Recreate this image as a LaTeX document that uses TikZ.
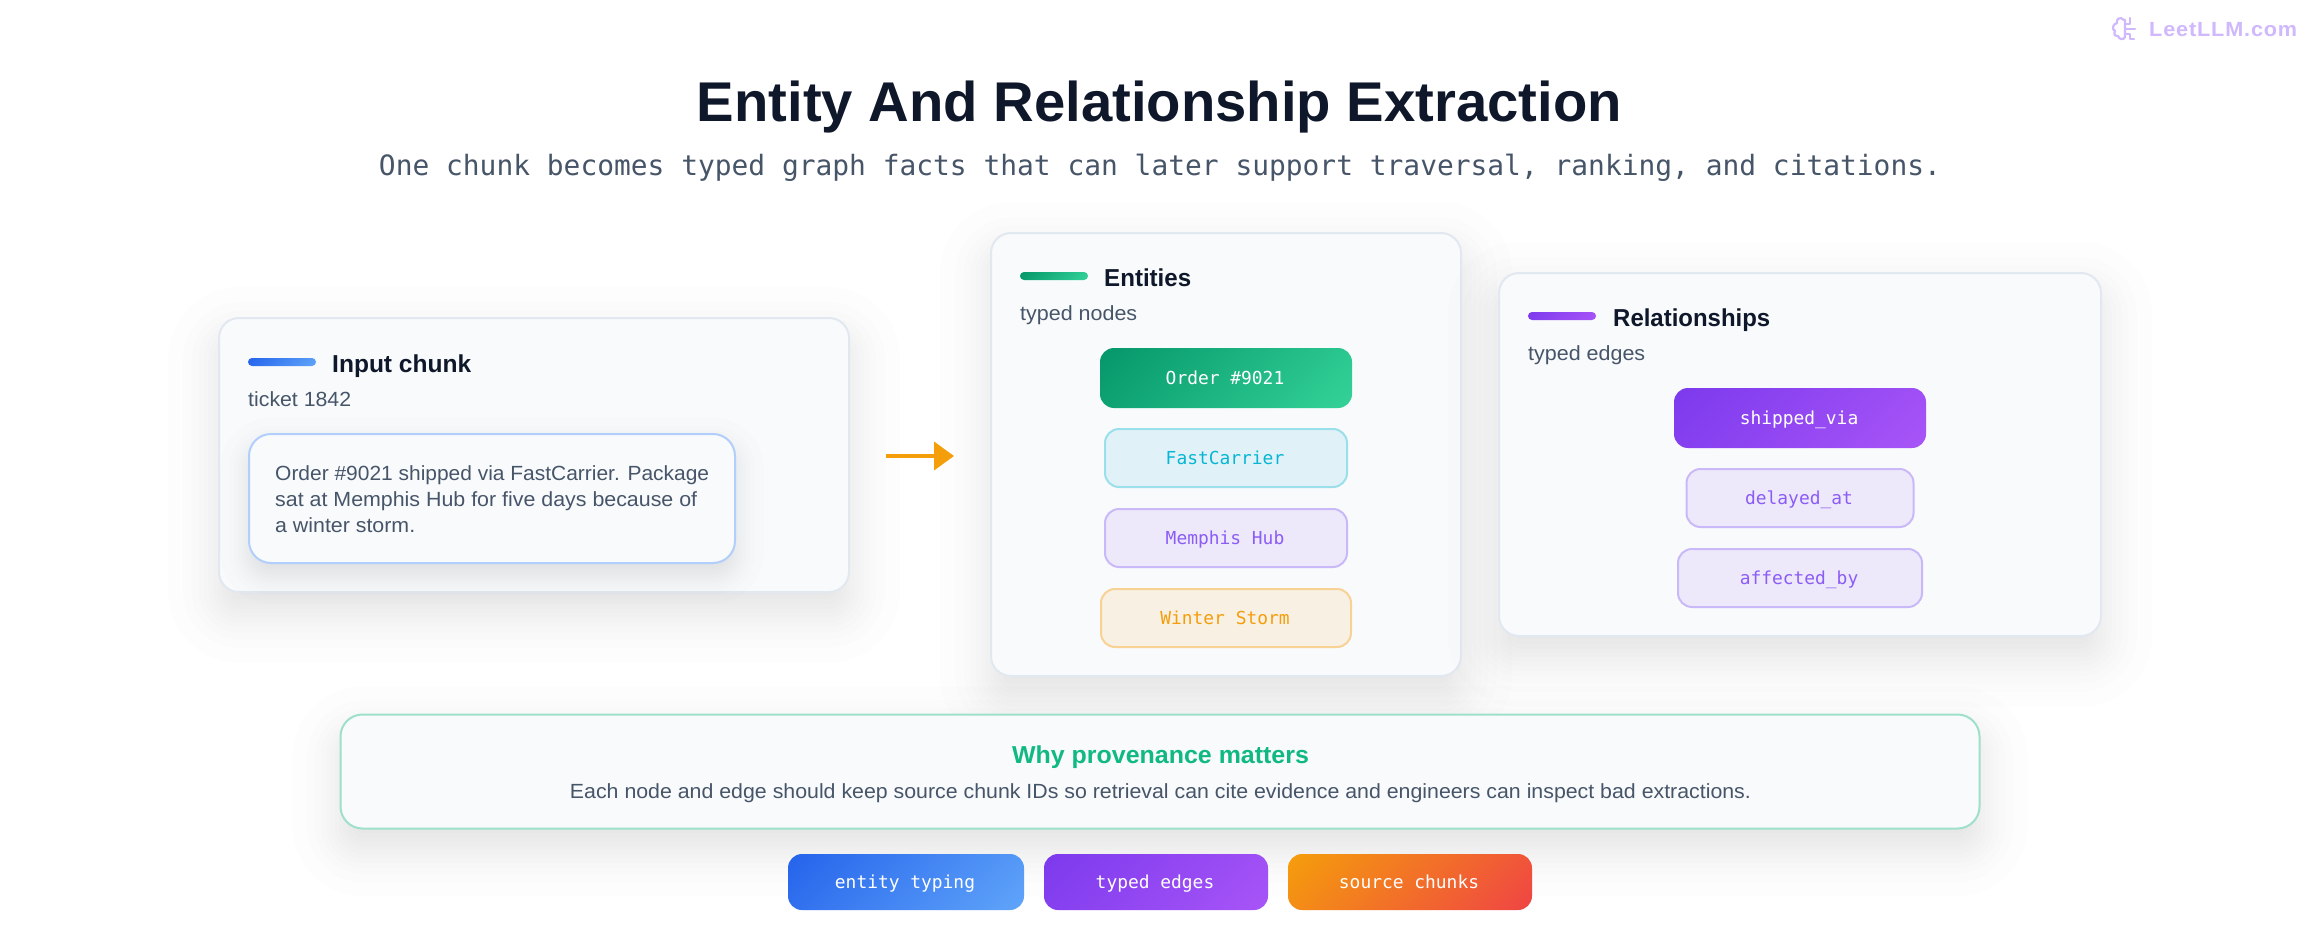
\documentclass[tikz,border=0pt]{standalone}
\usepackage{fontspec}
\usepackage{graphicx}
\usetikzlibrary{arrows.meta}
\setmainfont{Liberation Sans}
\newfontfamily\monof{DejaVu Sans Mono}
\definecolor{ink}{HTML}{0F172A}
\definecolor{slate}{HTML}{475569}
\definecolor{cardfill}{HTML}{F8FAFC}
\definecolor{cardline}{HTML}{E2E8F0}
\definecolor{blueA}{HTML}{2563EB}
\definecolor{blueB}{HTML}{60A5FA}
\definecolor{greenA}{HTML}{059669}
\definecolor{greenB}{HTML}{34D399}
\definecolor{purpA}{HTML}{7C3AED}
\definecolor{purpB}{HTML}{A855F7}
\definecolor{orngA}{HTML}{F59E0B}
\definecolor{redB}{HTML}{EF4444}
\definecolor{provgreen}{HTML}{10B981}
\definecolor{provline}{HTML}{9EE0C9}
\definecolor{chunkline}{HTML}{B2CEFB}
\definecolor{cyanfill}{HTML}{E0F2F8}
\definecolor{cyanline}{HTML}{9BDFEB}
\definecolor{cyantext}{HTML}{06B6D4}
\definecolor{violfill}{HTML}{EDE9FB}
\definecolor{violline}{HTML}{CAB9F9}
\definecolor{violtext}{HTML}{8B5CF6}
\definecolor{ambfill}{HTML}{F8F0E3}
\definecolor{ambline}{HTML}{F8D294}
\definecolor{logoc}{HTML}{D0B8FC}
\newcommand\fitw[2]{\resizebox{#1pt}{\height}{#2}}
% soft shadow: x1 y1 x2 y2 radius dy sigma opacity
\newcommand\softshadow[8]{%
  \pgfmathsetmacro\shA{#8/16}%
  \foreach \z in {-1.863,-1.318,-1.01,-0.776,-0.579,-0.402,-0.237,-0.078,0.078,0.237,0.402,0.579,0.776,1.01,1.318,1.863}{%
    \pgfmathsetmacro\shE{\z*#7}%
    \pgfmathsetmacro\shR{max(#5+\shE,1)}%
    \fill[ink,fill opacity=\shA,rounded corners=\shR pt]
      ({#1-\shE},{#2+#6-\shE}) rectangle ({#3+\shE},{#4+#6+\shE});
  }}
% css-like 135deg gradient: x1 y1 x2 y2 radius colA colB
\newcommand\gradfill[7]{%
  \begin{scope}
    \clip[rounded corners=#5pt] (#1,#2) rectangle (#3,#4);
    \pgfmathsetmacro\gcx{(#1+#3)/2}%
    \pgfmathsetmacro\gcy{(#2+#4)/2}%
    \pgfmathsetmacro\gL{(#3-#1+#4-#2)*0.35355}%
    \shade[transform canvas={rotate around={-45:(\gcx,\gcy)}},left color=#6,right color=#7]
      ({\gcx-\gL},{\gcy-\gL}) rectangle ({\gcx+\gL},{\gcy+\gL});
  \end{scope}}
\tikzset{
  cardbox/.style={draw=cardline,line width=2pt,fill=cardfill,rounded corners=20pt,inner sep=0pt},
  maintitle/.style={anchor=base,inner sep=0pt,text=ink,font=\fontsize{56}{60}\selectfont\bfseries},
  subtitle/.style={anchor=base,inner sep=0pt,text=slate,font=\fontsize{28}{32}\selectfont\monof},
  cardtitle/.style={anchor=base west,inner sep=0pt,text=ink,font=\fontsize{24.5}{28}\selectfont\bfseries},
  cardsub/.style={anchor=base west,inner sep=0pt,text=slate,font=\fontsize{20.5}{26}\selectfont},
  monolabel/.style={inner sep=0pt,font=\fontsize{17.9}{22}\selectfont\monof,text height=16pt,text depth=4pt,execute at begin node={\kern-2pt}},
  pillbox/.style={monolabel,text=white,rounded corners=14pt},
  violbox/.style={monolabel,draw=violline,fill=violfill,text=violtext,line width=2pt,rounded corners=14pt},
  flow/.style={draw=orngA,line width=4pt,-{Triangle[length=20pt,width=28pt,fill=orngA]},shorten <=36pt,shorten >=36pt},
  logoline/.style={draw=logoc,line width=2.2pt,line cap=round,line join=round}
}
\begin{document}
\begin{tikzpicture}[x=1pt,y=-1pt]
\useasboundingbox (0,0) rectangle (2320,928);
\fill[white] (0,0) rectangle (2320,928);

% watermark
\draw[logoline] (2124,20) .. controls (2120,16) and (2116,19) .. (2117,23)
  .. controls (2112,24) and (2112,30) .. (2115,31)
  .. controls (2113,35) and (2116,37) .. (2118,36)
  .. controls (2119,40) and (2124,40) .. (2125,37) -- (2125,20);
\draw[logoline] (2130,18) -- (2130,24) -- (2125,24);
\draw[logoline] (2125,29) -- (2135,29);
\draw[logoline] (2125,34) -- (2130,34) -- (2130,39) -- (2134,39);
\node[anchor=base west,inner sep=0pt,text=logoc,font=\fontsize{20.5}{24}\selectfont\bfseries\addfontfeature{LetterSpace=4}] (brand) at (2149,37) {\fitw{148}{LeetLLM.com}};

% headings
\node[maintitle] (title) at (1159.5,122) {\fitw{925}{Entity And Relationship Extraction}};
\node[subtitle] (subt) at (1160,176) {\fitw{1562}{One chunk becomes typed graph facts that can later support traversal, ranking, and citations.}};

% input card
\softshadow{220}{319}{848}{591}{20}{20}{28}{0.11}
\node[cardbox,minimum width=630pt,minimum height=274pt] (input) at (534,455) {};
\gradfill{248}{358}{316}{366}{4}{blueA}{blueB}
\node[cardtitle] (inputT) at (332,372) {\fitw{139}{Input chunk}};
\node[cardsub] (inputS) at (248,406) {\fitw{103}{ticket 1842}};
\softshadow{250}{435}{734}{562}{22}{12}{16}{0.13}
\node[draw=chunkline,fill=cardfill,line width=2pt,rounded corners=22pt,inner sep=0pt,minimum width=486pt,minimum height=129pt] (chunk) at (492,498.5) {};
\node[cardsub] (chunkA) at (275,480) {\fitw{434}{Order \#9021 shipped via FastCarrier. Package}};
\node[cardsub] (chunkB) at (275,506) {\fitw{422}{sat at Memphis Hub for five days because of}};
\node[cardsub] (chunkC) at (275,532) {\fitw{140}{a winter storm.}};

% entities card
\softshadow{992}{234}{1460}{675}{20}{20}{28}{0.11}
\node[cardbox,minimum width=470pt,minimum height=443pt] (entities) at (1226,454.5) {};
\gradfill{1020}{272}{1088}{280}{4}{greenA}{greenB}
\node[cardtitle] (entT) at (1104,286) {\fitw{87}{Entities}};
\node[cardsub] (entS) at (1020,320) {\fitw{117}{typed nodes}};
\gradfill{1100}{348}{1352}{408}{14}{greenA}{greenB}
\node[pillbox,minimum width=252pt,minimum height=60pt] (order) at (1226,378) {Order \#9021};
\node[monolabel,draw=cyanline,fill=cyanfill,text=cyantext,line width=2pt,rounded corners=14pt,minimum width=242pt,minimum height=58pt] (fast) at (1226,458) {FastCarrier};
\node[violbox,minimum width=242pt,minimum height=58pt] (hub) at (1226,538) {Memphis Hub};
\node[monolabel,draw=ambline,fill=ambfill,text=orngA,line width=2pt,rounded corners=14pt,minimum width=250pt,minimum height=58pt] (storm) at (1226,618) {Winter Storm};

% relationships card
\softshadow{1500}{274}{2100}{635}{20}{20}{28}{0.11}
\node[cardbox,minimum width=602pt,minimum height=363pt] (rels) at (1800,454.5) {};
\gradfill{1528}{312}{1596}{320}{4}{purpA}{purpB}
\node[cardtitle] (relT) at (1613,326) {\fitw{157}{Relationships}};
\node[cardsub] (relS) at (1528,360) {\fitw{117}{typed edges}};
\gradfill{1674}{388}{1926}{448}{14}{purpA}{purpB}
\node[pillbox,minimum width=252pt,minimum height=60pt] (shipped) at (1800,418) {shipped\_via};
\node[violbox,minimum width=227pt,minimum height=58pt] (delayed) at (1800,498) {delayed\_at};
\node[violbox,minimum width=244pt,minimum height=58pt] (affected) at (1800,578) {affected\_by};

% arrow
\draw[flow] ([yshift=-1pt]input.east) -- ([yshift=-1pt]input.east -| entities.west);

% provenance card
\softshadow{341}{715}{1979}{828}{22}{20}{26}{0.11}
\node[draw=provline,fill=cardfill,line width=2pt,rounded corners=22pt,inner sep=0pt,minimum width=1639pt,minimum height=114pt] (prov) at (1160,771.5) {};
\node[anchor=base,inner sep=0pt,text=provgreen,font=\fontsize{24.5}{28}\selectfont\bfseries] (provT) at (1160.5,763) {\fitw{297}{Why provenance matters}};
\node[anchor=base,inner sep=0pt,text=slate,font=\fontsize{20.5}{26}\selectfont] (provS) at (1160.5,798) {\fitw{1181}{Each node and edge should keep source chunk IDs so retrieval can cite evidence and engineers can inspect bad extractions.}};

% chips
\gradfill{788}{854}{1024}{910}{14}{blueA}{blueB}
\node[pillbox,minimum width=236pt,minimum height=56pt] (chipA) at (906,882) {entity typing};
\gradfill{1044}{854}{1268}{910}{14}{purpA}{purpB}
\node[pillbox,minimum width=224pt,minimum height=56pt] (chipB) at (1156,882) {typed edges};
\gradfill{1288}{854}{1532}{910}{14}{orngA}{redB}
\node[pillbox,minimum width=244pt,minimum height=56pt] (chipC) at (1410,882) {source chunks};
\end{tikzpicture}
\end{document}
